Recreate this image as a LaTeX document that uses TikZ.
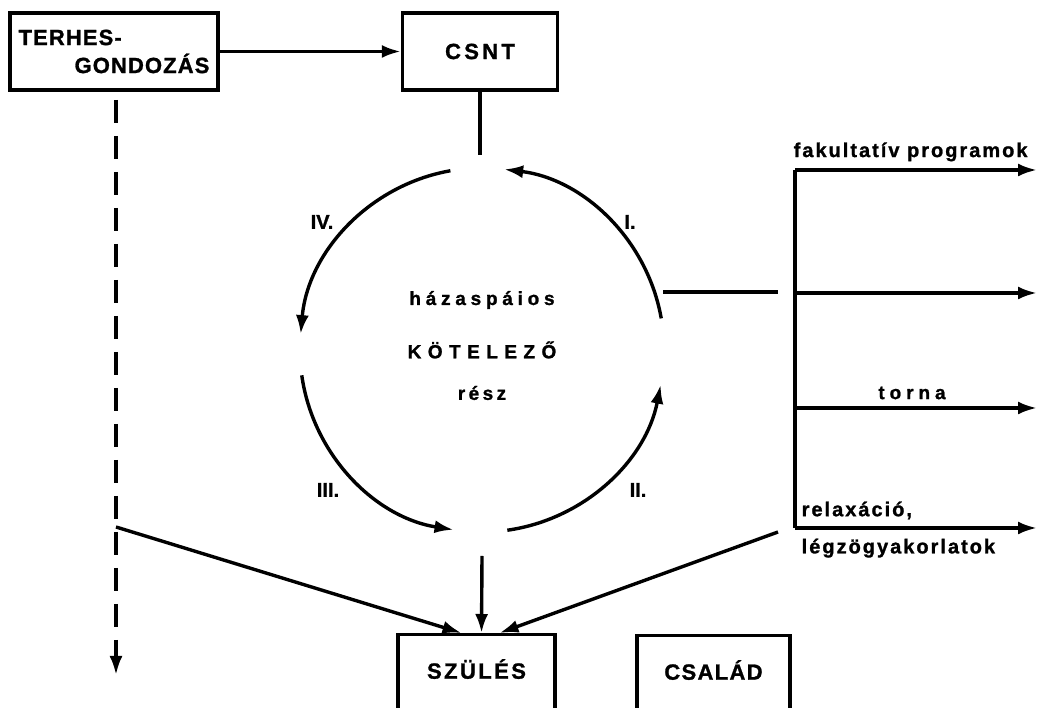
\documentclass[tikz,border=0pt]{standalone}
\usepackage{fontspec}
\setmainfont[BoldFeatures={FakeBold=1.2}]{Liberation Sans}
\usetikzlibrary{arrows.meta,positioning,calc}
\newcommand{\boxtxt}{\fontsize{22}{26}\selectfont\bfseries}
\newcommand{\romtxt}{\fontsize{20}{22}\selectfont\bfseries}
\newcommand{\midtxt}{\fontsize{19}{22}\selectfont\bfseries}
\newcommand{\sidetxt}{\fontsize{20}{24}\selectfont\bfseries\addfontfeatures{LetterSpace=10}}
\tikzset{
    box/.style={draw, rectangle, minimum width=155pt, minimum height=77pt,
    text centered, font=\boxtxt},
    openbox/.style={box, anchor=north, text height=34pt, text depth=40pt, inner ysep=10pt},
    romlabel/.style={font=\romtxt},
    midtext/.style={font=\midtxt},
    sidetext/.style={font=\sidetxt, inner sep=0pt}
}

\begin{document}
\begin{tikzpicture}[x=1pt, y=1pt,
		        >={Latex[length=19pt,width=13pt]},
		        line width=3.4pt
		      ]
		  \useasboundingbox (0,0) rectangle (1039,708);
		  \clip (0,0) rectangle (1039,708);
		
		  \node[box, minimum width=208pt, align=left, font={\boxtxt\addfontfeatures{LetterSpace=5}}] (terhes) at (114,656.5) {TERHES-\\[2pt]\hspace*{56pt}GONDOZÁS};
		  \node[box, font={\boxtxt\addfontfeatures{LetterSpace=15}}] (csnt) at (480,656.5) {CSNT};
		  \node[openbox, minimum width=157pt, font={\boxtxt\addfontfeatures{LetterSpace=11}}] (szules) at (476.5,75) {SZÜLÉS};
		  \node[openbox, minimum width=153pt, font={\boxtxt\addfontfeatures{LetterSpace=6}}] (csalad) at (713.5,74) {CSALÁD};
		
		  \coordinate (ctr) at (482,358);
		  \coordinate (ctop) at (480,553);
		  \coordinate (cbot) at (482,152);
		  \coordinate (cright) at (663,416);
		  \coordinate (stub) at (778,416);
		
		  \draw[->] (terhes.east) -- (csnt.west);
		  \draw (csnt.south) -- (ctop);
		
		  \draw[->] ([shift={(10:182)}]ctr) arc[start angle=10, end angle=83, radius=182];
		  \draw[->] ([shift={(100:182)}]ctr) arc[start angle=100, end angle=175, radius=182];
		  \draw[->] ([shift={(188:182)}]ctr) arc[start angle=188, end angle=261, radius=182];
		  \draw[->] ([shift={(278:182)}]ctr) arc[start angle=278, end angle=349, radius=182];
		
		  \node[romlabel] (rI) at (630,486) {I.};
		  \node[romlabel] (rIV) at (322,486) {IV.};
		  \node[romlabel] (rIII) at (328,218) {III.};
		  \node[romlabel] (rII) at (638,218) {II.};
		
		  \node[midtext, font={\midtxt\addfontfeatures{LetterSpace=25}}] (hazas) at (482,408) {házaspáios};
		  \node[midtext, font={\midtxt\addfontfeatures{LetterSpace=34}}] (kotel) at (482,358) {KÖTELEZŐ};
		  \node[midtext, font={\midtxt\addfontfeatures{LetterSpace=18}}] (resz) at (482,315) {rész};
		
		  \draw (cright) -- (stub);
		
		  \coordinate (fork a) at (795,538);
		  \coordinate (fork b) at (795,415);
		  \coordinate (fork c) at (795,300);
		  \coordinate (fork d) at (795,180);
		  \coordinate (end a) at (1037,538);
		  \coordinate (end b) at (1037,415);
		  \coordinate (end c) at (1037,300);
		  \coordinate (end d) at (1037,180);
		
		  \draw (fork a) -- (fork d);
		  \draw[->] (fork a) -- (end a);
		  \draw[->] (fork b) -- (end b);
		  \draw[->] (fork c) -- (end c);
		  \draw[->] (fork d) -- (end d);
		
		  \node[sidetext, anchor=south west] (fakult) at (792,545) {fakultatív programok};
		  \node[sidetext, anchor=south, font={\midtxt\addfontfeatures{LetterSpace=26}}] (torna) at (912,307) {torna};
		  \node[sidetext, anchor=south west] (relax) at (800,187) {relaxáció,};
		  \node[sidetext, anchor=north west] (legzo) at (800,171) {légzögyakorlatok};
		
		  \coordinate (dashtop) at (116,608);
		  \coordinate (dashend) at (116,33);
		  \coordinate (tee) at (116,181);
		  \coordinate (rlx) at (778,176);
		
		  \draw[->, dash pattern=on 23pt off 13pt] (dashtop) -- (dashend);
		  \draw[->] (tee) -- ([xshift=-15pt]szules.north);
		  \draw[->] (cbot) -- ([xshift=5pt]szules.north);
		  \draw[->] (rlx) -- ([xshift=23pt]szules.north);
		\end{tikzpicture}
\end{document}
